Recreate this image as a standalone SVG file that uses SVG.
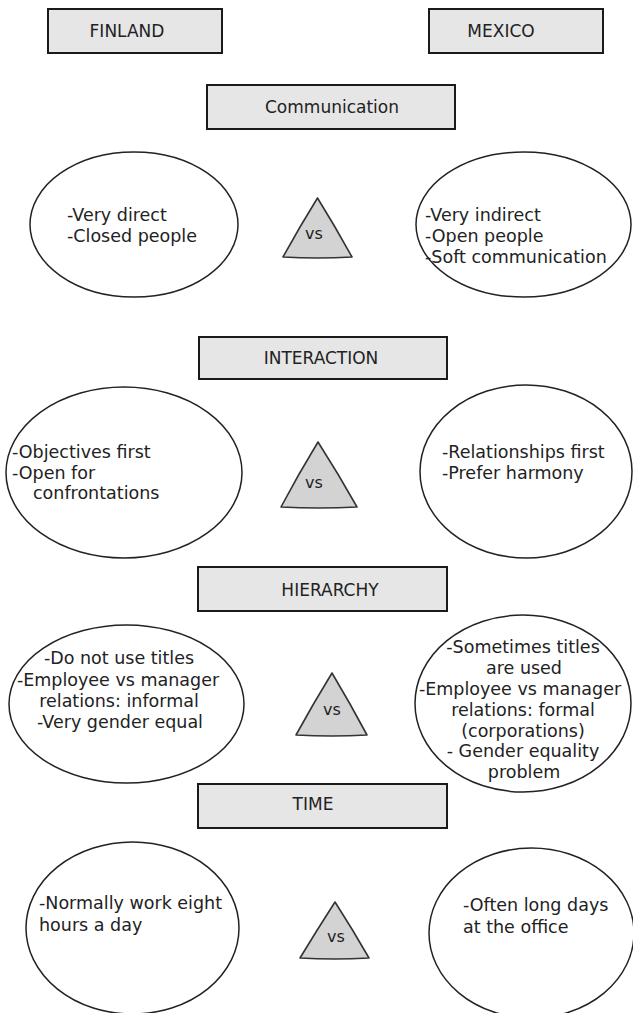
<svg xmlns="http://www.w3.org/2000/svg" width="633" height="1013" viewBox="0 0 633 1013">
  <style>
    .hdr { fill: #e6e6e6; stroke: #1a1a1a; stroke-width: 2; }
    .oval { fill: #ffffff; stroke: #222222; stroke-width: 1.5; }
    .tri { fill: #d3d3d3; stroke: #333333; stroke-width: 1.6; stroke-linejoin: round; }
    text { font-family: "DejaVu Sans", Verdana, sans-serif; font-size: 17.5px; fill: #222222; }
    .h { font-size: 17px; text-anchor: middle; }
    .c { text-anchor: middle; }
    .vs { font-size: 16px; text-anchor: middle; fill: #1e1e1e; }
  </style>
  <rect width="633" height="1013" fill="#ffffff"/>

  <!-- country headers -->
  <g id="finland">
    <rect class="hdr" x="48" y="9" width="174" height="44"/>
    <text x="127" y="37" class="h">FINLAND</text>
  </g>
  <g id="mexico">
    <rect class="hdr" x="429" y="9" width="174" height="44"/>
    <text x="501" y="37" class="h">MEXICO</text>
  </g>

  <!-- Communication -->
  <g id="communication">
    <rect class="hdr" x="207" y="85" width="248" height="44"/>
    <text x="332" y="113" class="h">Communication</text>
  </g>
  <g id="comm-finland">
    <ellipse class="oval" cx="134" cy="224.5" rx="104" ry="72.5"/>
    <text x="67" y="221">-Very direct</text>
    <text x="67" y="242">-Closed people</text>
  </g>
  <g id="comm-vs">
    <path class="tri" d="M317.5,198 Q335.5,227 352,257 Q317.5,259 283,257 Q299.5,227 317.5,198 Z"/>
    <text x="314" y="239" class="vs">vs</text>
  </g>
  <g id="comm-mexico">
    <ellipse class="oval" cx="523.5" cy="224.5" rx="107.5" ry="72.5"/>
    <text x="425" y="221">-Very indirect</text>
    <text x="425" y="242">-Open people</text>
    <text x="425" y="263">-Soft communication</text>
  </g>

  <!-- Interaction -->
  <g id="interaction">
    <rect class="hdr" x="199" y="337" width="248" height="42"/>
    <text x="321" y="364" class="h">INTERACTION</text>
  </g>
  <g id="inter-finland">
    <ellipse class="oval" cx="124" cy="472.5" rx="118" ry="85.5"/>
    <text x="12" y="458">-Objectives first</text>
    <text x="12" y="478.5">-Open for</text>
    <text x="33" y="499">confrontations</text>
  </g>
  <g id="inter-vs">
    <path class="tri" d="M318,442 Q338.5,474 357,507 Q319,509 281,507 Q298.5,474 318,442 Z"/>
    <text x="314" y="488" class="vs">vs</text>
  </g>
  <g id="inter-mexico">
    <ellipse class="oval" cx="526" cy="471.5" rx="106" ry="86.5"/>
    <text x="442" y="458">-Relationships first</text>
    <text x="442" y="478.5">-Prefer harmony</text>
  </g>

  <!-- Hierarchy -->
  <g id="hierarchy">
    <rect class="hdr" x="198" y="567" width="249" height="44"/>
    <text x="330" y="596" class="h">HIERARCHY</text>
  </g>
  <g id="hier-finland">
    <ellipse class="oval" cx="126.5" cy="704" rx="117.5" ry="79"/>
    <text x="119" y="664" class="c">-Do not use titles</text>
    <text x="118" y="685.5" class="c">-Employee vs manager</text>
    <text x="119" y="706.5" class="c">relations: informal</text>
    <text x="120" y="728" class="c">-Very gender equal</text>
  </g>
  <g id="hier-vs">
    <path class="tri" d="M332,673 Q350.5,704 367,735 Q331.5,737 296,735 Q313,704 332,673 Z"/>
    <text x="332" y="715" class="vs">vs</text>
  </g>
  <g id="hier-mexico">
    <ellipse class="oval" cx="523" cy="703.5" rx="108" ry="88.5"/>
    <text x="523" y="653" class="c">-Sometimes titles</text>
    <text x="524" y="674" class="c">are used</text>
    <text x="520" y="695" class="c">-Employee vs manager</text>
    <text x="523" y="715.5" class="c">relations: formal</text>
    <text x="523" y="736.5" class="c">(corporations)</text>
    <text x="523" y="757" class="c">- Gender equality</text>
    <text x="524" y="778" class="c">problem</text>
  </g>

  <!-- Time -->
  <g id="time">
    <rect class="hdr" x="198" y="784" width="249" height="44"/>
    <text x="313" y="810" class="h">TIME</text>
  </g>
  <g id="time-finland">
    <ellipse class="oval" cx="132.5" cy="928" rx="106.5" ry="86"/>
    <text x="39" y="909">-Normally work eight</text>
    <text x="39" y="930.5">hours a day</text>
  </g>
  <g id="time-vs">
    <path class="tri" d="M335,902 Q353,930 369,958 Q334.5,960 300,958 Q317,930 335,902 Z"/>
    <text x="336" y="942" class="vs">vs</text>
  </g>
  <g id="time-mexico">
    <ellipse class="oval" cx="531.5" cy="933" rx="102.5" ry="85"/>
    <text x="463" y="911">-Often long days</text>
    <text x="463" y="932.5">at the office</text>
  </g>
</svg>
